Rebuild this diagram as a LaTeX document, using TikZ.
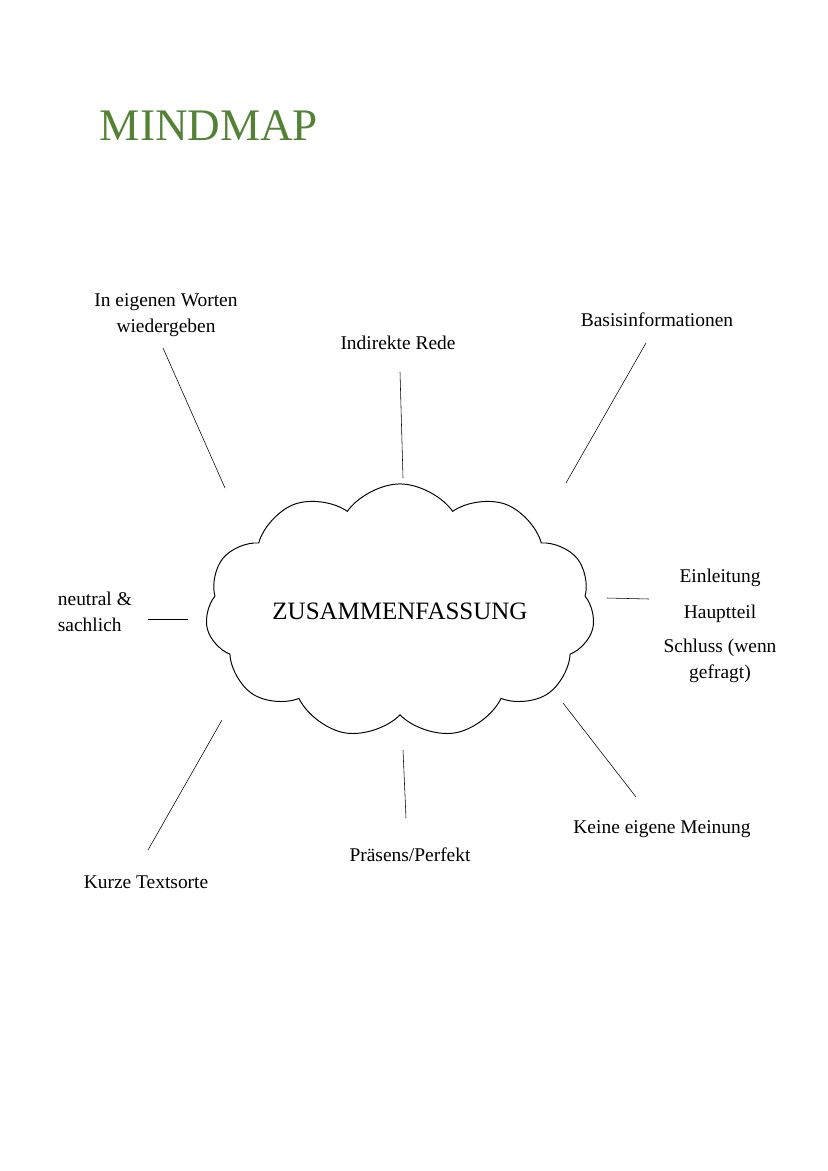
\documentclass[tikz,border=0pt]{standalone}
\usepackage{fontspec}
\setmainfont{Liberation Serif}
\usetikzlibrary{shapes.symbols}
\definecolor{titlegreen}{RGB}{84,130,53}

\begin{document}
\begin{tikzpicture}[x=0.72pt,y=-0.72pt]

\tikzset{label/.style = {font=\fontsize{14}{18.5}\selectfont, align=center}}
\tikzset{spoke/.style = {draw, line width=0.4pt}}
\useasboundingbox (0,0) rectangle (828,1171);
%title
\node[anchor=west, text=titlegreen, font=\fontsize{32.5}{38}\selectfont] (title) at (95,126) {MINDMAP};
%cloud
\node[cloud, draw, line width=0.7pt, cloud puffs=11, cloud puff arc=110, aspect=1.8, minimum width=258pt, minimum height=152pt, font=\fontsize{18}{21}\selectfont] (center) at (400,611) {ZUSAMMENFASSUNG};
%labels
\node[label] (worte) at (166,315) {In eigenen Worten\\wiedergeben};
\node[label] (rede) at (398,343) {Indirekte Rede};
\node[label] (basis) at (657,320) {Basisinformationen};
\node[label] (einl) at (720,578) {Einleitung};
\node[label] (haupt) at (720,614) {Hauptteil};
\node[label] (schluss) at (720,661) {Schluss (wenn\\gefragt)};
\node[label, align=left, anchor=west] (neutral) at (53,612) {neutral \&\\sachlich};
\node[label] (kurz) at (146,882) {Kurze Textsorte};
\node[label] (praesens) at (410,855) {Präsens/Perfekt};
\node[label] (meinung) at (662,829) {Keine eigene Meinung};
%spoke ends
\coordinate (a1) at (163,348); \coordinate (a2) at (225,488);
\coordinate (b1) at (400,372); \coordinate (b2) at (403,478);
\coordinate (c1) at (646,343); \coordinate (c2) at (566,483);
\coordinate (d1) at (607,598); \coordinate (d2) at (649,599);
\coordinate (e1) at (148,619); \coordinate (e2) at (188,619);
\coordinate (f1) at (222,720); \coordinate (f2) at (148,850);
\coordinate (g1) at (403,750); \coordinate (g2) at (406,818);
\coordinate (h1) at (563,703); \coordinate (h2) at (636,797);
%spokes
\foreach \s in {a,b,c,d,e,f,g,h}
  \draw[spoke] (\s1) -- (\s2);

\end{tikzpicture}
\end{document}
